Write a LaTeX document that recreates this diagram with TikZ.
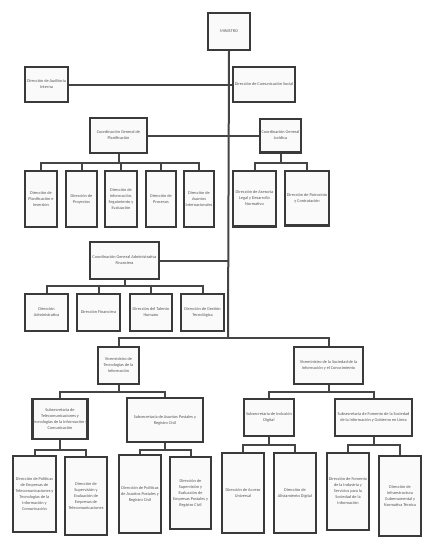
\documentclass[tikz,border=0pt]{standalone}
\usepackage{fontspec}
\setmainfont{Carlito}
\definecolor{bordc}{HTML}{3A3A3A}
\definecolor{linec}{HTML}{454545}
\definecolor{boxf}{HTML}{FAFAFA}
\definecolor{txtc}{HTML}{555555}
\tikzset{
  obox/.style={draw=bordc, line width=2.4pt, fill=boxf, inner sep=0pt, align=center,
    text=txtc, font=\fontsize{4.3}{6}\selectfont},
  conn/.style={draw=linec, line width=2pt},
}
\newcommand\orgbox[6]{\node[obox, minimum width=#4pt-2.4pt, minimum height=#5pt-2.4pt] (#1) at (#2,#3) {#6};}
\begin{document}
\begin{tikzpicture}[x=1pt,y=-1pt]
\useasboundingbox[fill=white] (0,0) rectangle (435,554);
\coordinate (tEnd) at (228,338);
% boxes
\orgbox{min}{229}{31.5}{44}{39}{MINISTRO}
\orgbox{aud}{46.5}{84.5}{45}{37}{Dirección de Auditoria\\Interna}
\orgbox{com}{264}{84.5}{64}{37}{Dirección de Comunicación Social}
\orgbox{plan}{118.5}{135.5}{59}{37}{Coordinación General de\\Planificación}
\orgbox{jur}{280.5}{135.5}{43}{36}{Coordinación General\\Jurídica}
\orgbox{p1}{41}{199}{34}{58}{Dirección de\\Planificación e\\Inversión}
\orgbox{p2}{81.5}{199}{33}{58}{Dirección de\\Proyectos}
\orgbox{p3}{121}{199}{34}{58}{Dirección de\\Información,\\Seguimiento y\\Evaluación}
\orgbox{p4}{161}{199}{32}{58}{Dirección de\\Procesos}
\orgbox{p5}{199}{199}{32}{58}{Dirección de\\Asuntos\\Internacionales}
\orgbox{j1}{254.5}{198.5}{45}{58}{Dirección de Asesoría\\Legal y Desarrollo\\Normativo}
\orgbox{j2}{307}{198}{46}{57}{Dirección de Patrocinio\\y Contratación}
\orgbox{adm}{124.5}{260.5}{71}{39}{Coordinación General Administrativa\\Financiera}
\orgbox{a1}{46.5}{312.5}{45}{39}{Dirección\\Administrativa}
\orgbox{a2}{98.5}{312.5}{45}{39}{Dirección Financiera}
\orgbox{a3}{151}{312.5}{44}{39}{Dirección del Talento\\Humano}
\orgbox{a4}{202.5}{312.5}{45}{39}{Dirección de Gestión\\Tecnológica}
\orgbox{v1}{118.5}{365.5}{43}{39}{Viceministro de\\Tecnologías de la\\Información}
\orgbox{v2}{328.5}{365.5}{71}{39}{Viceministro de la Sociedad de la\\Información y el Conocimiento}
\orgbox{s1}{60}{419}{56}{42}{Subsecretaría de\\Telecomunicaciones y\\Tecnologías de la Información y\\Comunicación}
\orgbox{s2}{165}{420}{78}{46}{Subsecretaría de Asuntos Postales y\\Registro Civil}
\orgbox{s3}{269}{417.5}{52}{39}{Subsecretaría de Inclusión\\Digital}
\orgbox{s4}{373.5}{417.5}{79}{39}{Subsecretaría de Fomento de la Sociedad\\de la Información y Gobierno en Línea}
\orgbox{t1}{34.5}{494}{45}{78}{Dirección de Políticas\\de Empresas de\\Telecomunicaciones y\\Tecnologías de la\\Información y\\Comunicación}
\orgbox{t2}{86}{496}{44}{80}{Dirección de\\Supervisión y\\Evaluación de\\Empresas de\\Telecomunicaciones}
\orgbox{t3}{140}{494}{44}{80}{Dirección de Políticas\\de Asuntos Postales y\\Registro Civil}
\orgbox{t4}{190.5}{493}{43}{74}{Dirección de\\Supervisión y\\Evaluación de\\Empresas Postales y\\Registro Civil}
\orgbox{u1}{243}{493}{44}{82}{Dirección de Acceso\\Universal}
\orgbox{u2}{295}{493}{44}{82}{Dirección de\\Alistamiento Digital}
\orgbox{u3}{348}{491.5}{44}{79}{Dirección de Fomento\\de la Industria y\\Servicios para la\\Sociedad de la\\Información}
\orgbox{u4}{400}{496}{44}{82}{Dirección de\\Infraestructura\\Gubernamental y\\Normativa Técnica}
% bus coordinates
\coordinate (pb) at (118.5,163);
\coordinate (jb) at (280.5,163);
\coordinate (ab) at (124.5,286);
\coordinate (vb1) at (118.5,392);
\coordinate (vb2) at (328.5,392);
\coordinate (sb1) at (60,450);
\coordinate (sb2) at (165,450);
\coordinate (sb3) at (269,445);
\coordinate (sb4) at (373.5,445);
% connectors
\draw[conn] (min.south) -- (tEnd);
\draw[conn] (aud.east) -- (com.west);
\draw[conn] (plan.east) -- (jur.west);
\draw[conn] (adm.east) -- (adm.east -| tEnd);
\draw[conn] (v1.north) |- (tEnd) -| (v2.north);
\draw[conn] (plan.south) -- (pb);
\foreach \c in {p1,p2,p3,p4,p5} \draw[conn] (\c.north) |- (pb);
\draw[conn] (jur.south) -- (jb);
\foreach \c in {j1,j2} \draw[conn] (\c.north) |- (jb);
\draw[conn] (adm.south) -- (ab);
\foreach \c in {a1,a2,a3,a4} \draw[conn] (\c.north) |- (ab);
\draw[conn] (v1.south) -- (vb1);
\foreach \c in {s1,s2} \draw[conn] (\c.north) |- (vb1);
\draw[conn] (v2.south) -- (vb2);
\foreach \c in {s3,s4} \draw[conn] (\c.north) |- (vb2);
\draw[conn] (s1.south) -- (sb1);
\foreach \c in {t1,t2} \draw[conn] (\c.north) |- (sb1);
\draw[conn] (s2.south) -- (sb2);
\foreach \c in {t3,t4} \draw[conn] (\c.north) |- (sb2);
\draw[conn] (s3.south) -- (sb3);
\foreach \c in {u1,u2} \draw[conn] (\c.north) |- (sb3);
\draw[conn] (s4.south) -- (sb4);
\foreach \c in {u3,u4} \draw[conn] (\c.north) |- (sb4);
\end{tikzpicture}
\end{document}
